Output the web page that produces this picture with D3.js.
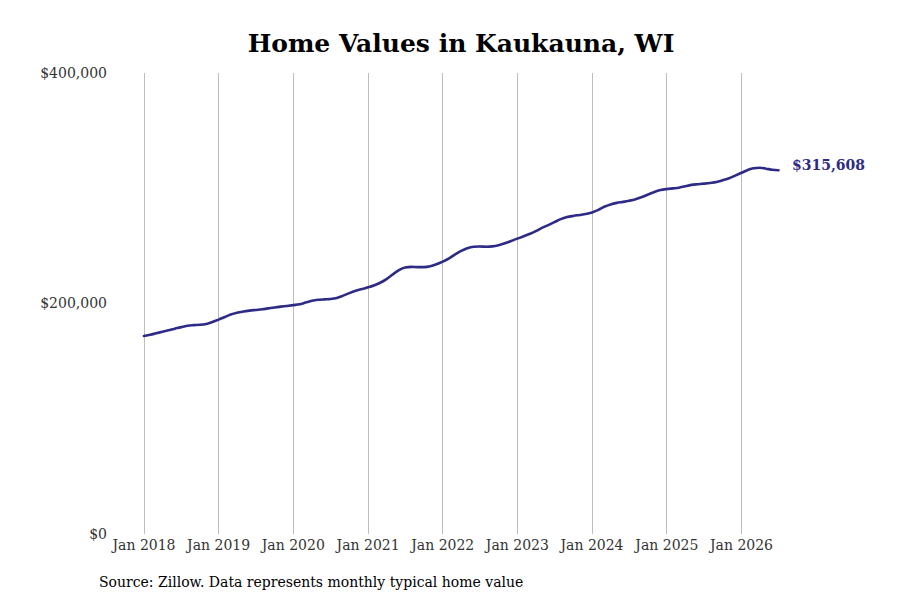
<!DOCTYPE html>
<html>
<head>
<meta charset="utf-8">
<script src="https://cdn.jsdelivr.net/npm/d3@7"></script>
<style>
  body { margin: 0; background: #fff; }
  svg { display: block; font-family: "DejaVu Serif", serif; }
</style>
</head>
<body>
<svg id="chart" width="900" height="600"></svg>
<script>
// monthly typical home value, Jan 2018 .. Jul 2026 (thousands of dollars)
const startMonth = "2018-01";
const values = [
  171.8, 172.9, 174.1, 175.4, 176.7, 178.1, 179.5, 180.7, 181.2, 181.5, 182.3, 184.0,
  186.0, 188.3, 190.4, 192.0, 193.0, 193.8, 194.4, 195.0, 195.8, 196.6, 197.3, 197.9,
  198.6, 199.4, 200.8, 202.3, 203.2, 203.6, 203.9, 204.8, 206.8, 209.0, 211.0, 212.5,
  214.0, 215.8, 218.0, 221.2, 225.2, 229.0, 231.2, 231.8, 231.6, 231.6, 232.3, 234.0,
  236.3, 239.2, 242.5, 245.6, 248.0, 249.2, 249.4, 249.3, 249.6, 250.6, 252.2, 254.3,
  256.3, 258.3, 260.3, 262.8, 265.6, 268.0, 270.6, 273.2, 275.0, 276.0, 276.8, 277.6,
  279.0, 281.3, 284.0, 286.0, 287.3, 288.2, 289.2, 290.5, 292.4, 294.6, 296.8, 298.4,
  299.3, 299.9, 300.5, 301.8, 302.9, 303.5, 304.0, 304.6, 305.4, 306.9, 308.6, 311.0,
  313.4, 315.9, 317.4, 317.8, 317.0, 316.0, 315.608
];
const yTicks = [0, 200000, 400000];
const xTickYears = [2018, 2019, 2020, 2021, 2022, 2023, 2024, 2025, 2026];
const title = "Home Values in Kaukauna, WI";
const source = "Source: Zillow. Data represents monthly typical home value";

const parseMonth = d3.timeParse("%Y-%m");
const t0 = parseMonth(startMonth);
const data = values.map((v, i) => ({ date: d3.timeMonth.offset(t0, i), value: v * 1000 }));

const svg = d3.select("#chart");
const lineColor = "#2e2b87";

const x = d3.scaleTime()
  .domain([t0, data[data.length - 1].date])
  .range([144, 778.5]);

const y = d3.scaleLinear()
  .domain([0, 400000])
  .range([534, 73]);

// vertical gridlines
svg.append("g")
  .selectAll("line")
  .data(xTickYears)
  .join("line")
  .attr("x1", d => x(new Date(d, 0, 1)))
  .attr("x2", d => x(new Date(d, 0, 1)))
  .attr("y1", y(400000))
  .attr("y2", y(0))
  .attr("stroke", "#bdbdbd")
  .attr("stroke-width", 1)
  .attr("shape-rendering", "crispEdges");

// x labels
svg.append("g")
  .selectAll("text")
  .data(xTickYears)
  .join("text")
  .attr("x", d => x(new Date(d, 0, 1)))
  .attr("y", 550)
  .attr("text-anchor", "middle")
  .attr("font-size", 14)
  .attr("fill", "#333")
  .text(d => "Jan " + d);

// y labels
const fmt = d3.format("$,.0f");
svg.append("g")
  .selectAll("text")
  .data(yTicks)
  .join("text")
  .attr("x", 107)
  .attr("y", d => y(d))
  .attr("dy", "0.35em")
  .attr("text-anchor", "end")
  .attr("font-size", 14)
  .attr("fill", "#333")
  .text(d => fmt(d));

// the line
const line = d3.line()
  .x(d => x(d.date))
  .y(d => y(d.value))
  .curve(d3.curveMonotoneX);

svg.append("path")
  .datum(data)
  .attr("fill", "none")
  .attr("stroke", lineColor)
  .attr("stroke-width", 2.6)
  .attr("stroke-linecap", "round")
  .attr("d", line);

// end label
const last = data[data.length - 1];
svg.append("text")
  .attr("x", 792)
  .attr("y", y(last.value) - 5)
  .attr("dy", "0.35em")
  .attr("font-size", 14)
  .attr("font-weight", "bold")
  .attr("fill", lineColor)
  .text(fmt(last.value));

// title
svg.append("text")
  .attr("x", 461)
  .attr("y", 52)
  .attr("text-anchor", "middle")
  .attr("font-size", 25)
  .attr("font-weight", "bold")
  .attr("fill", "#000")
  .text(title);

// source
svg.append("text")
  .attr("x", 99)
  .attr("y", 587)
  .attr("font-size", 14)
  .attr("fill", "#000")
  .text(source);
</script>
</body>
</html>
